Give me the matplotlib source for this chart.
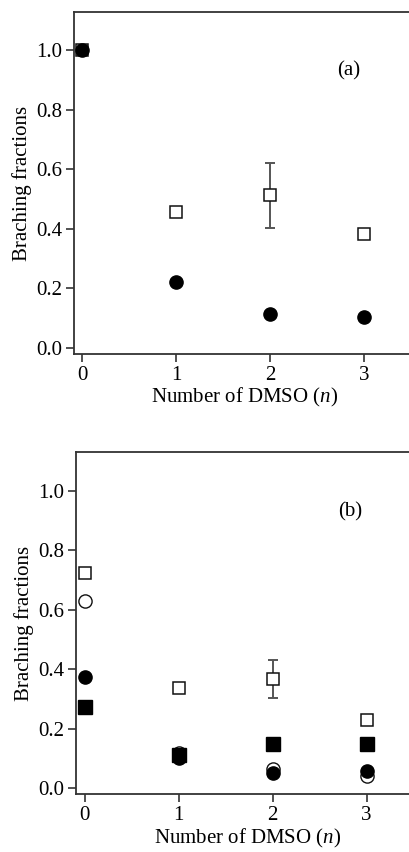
import matplotlib
matplotlib.use("Agg")
import matplotlib.pyplot as plt

plt.rcParams['font.family'] = ['Liberation Serif', 'DejaVu Serif']
plt.rcParams['mathtext.fontset'] = 'custom'
plt.rcParams['mathtext.rm'] = 'Liberation Serif'
plt.rcParams['mathtext.it'] = 'Liberation Serif:italic'

n = [0, 1, 2, 3]

# Panel (a)
a_open_sq = [1.0, 0.458, 0.513, 0.381]
a_open_sq_err_lo = [0, 0, 0.109, 0]
a_open_sq_err_hi = [0, 0, 0.109, 0]
a_fill_circ = [1.0, 0.221, 0.115, 0.104]

# Panel (b)
b_open_sq = [0.724, 0.337, 0.366, 0.229]
b_open_sq_err_lo = [0, 0, 0.064, 0]
b_open_sq_err_hi = [0, 0, 0.066, 0]
b_open_circ = [0.629, 0.118, 0.064, 0.040]
b_fill_sq = [0.273, 0.110, 0.147, 0.147]
b_fill_circ = [0.372, 0.100, 0.052, 0.057]

yticks = [0.0, 0.2, 0.4, 0.6, 0.8, 1.0]
ytick_labels = ["0.0", "0.2", "0.4", "0.6", "0.8", "1.0"]
xlabel = "Number of DMSO ($n$)"
ylabel = "Braching fractions"

W, H = 409, 852
fig = plt.figure(figsize=(W / 100, H / 100), dpi=100)

spine_col = "#333333"
err_col = "#555555"
FS = 15


def style_axes(ax):
    ax.set_xlim(-0.09, 3.55)
    ax.set_ylim(-0.021, 1.129)
    ax.set_xticks(n)
    ax.set_xticklabels([str(v) for v in n])
    ax.set_yticks(yticks)
    ax.set_yticklabels(ytick_labels)
    for s in ["left", "bottom", "top", "right"]:
        ax.spines[s].set_color(spine_col)
        ax.spines[s].set_linewidth(1.3)
    ax.tick_params(axis="both", direction="out", length=6, width=1.2,
                   color=spine_col, labelsize=FS, pad=2.5)
    ax.set_xlabel(xlabel, fontsize=FS, labelpad=1)
    ax.set_ylabel(ylabel, fontsize=FS, labelpad=3)


def open_square(ax, x, y, lo, hi):
    ax.errorbar(x, y, yerr=[lo, hi], fmt="none", ecolor=err_col,
                elinewidth=1.4, capsize=3.8, capthick=1.4, zorder=2)
    ax.plot(x, y, linestyle="none", marker="s", markersize=8.5,
            markerfacecolor="white", markeredgecolor="#111111",
            markeredgewidth=1.1, zorder=3)


# Panel (a)
ax1 = fig.add_axes([74 / W, 498 / H, 342 / W, 342 / H])
style_axes(ax1)
open_square(ax1, n, a_open_sq, a_open_sq_err_lo, a_open_sq_err_hi)
ax1.plot(n, a_fill_circ, linestyle="none", marker="o", markersize=9.5,
         markerfacecolor="black", markeredgecolor="black", zorder=4)
ax1.text(2.83, 0.93, "(a)", fontsize=FS, ha="center", va="center")

# Panel (b)
ax2 = fig.add_axes([76.3 / W, 57.7 / H, 342 / W, 342 / H])
style_axes(ax2)
open_square(ax2, n, b_open_sq, b_open_sq_err_lo, b_open_sq_err_hi)
ax2.plot(n, b_open_circ, linestyle="none", marker="o", markersize=9.5,
         markerfacecolor="white", markeredgecolor="#111111",
         markeredgewidth=1.0, zorder=3)
ax2.plot(n, b_fill_sq, linestyle="none", marker="s", markersize=9.5,
         markerfacecolor="black", markeredgecolor="black", zorder=4)
ax2.plot(n, b_fill_circ, linestyle="none", marker="o", markersize=9.5,
         markerfacecolor="black", markeredgecolor="black", zorder=5)
ax2.text(2.83, 0.93, "(b)", fontsize=FS, ha="center", va="center")

fig.savefig("out.png", dpi=100)
